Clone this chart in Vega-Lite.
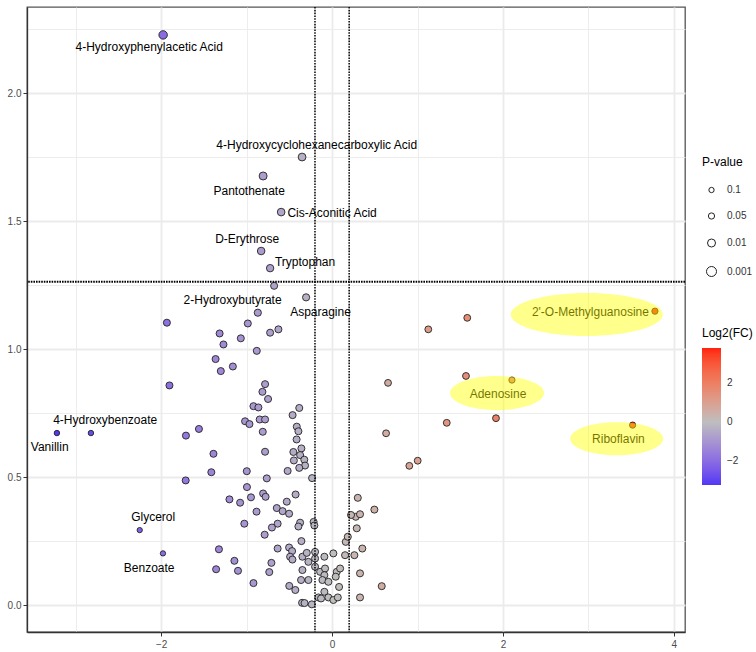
{
  "$schema": "https://vega.github.io/schema/vega-lite/v6.json",
  "width": 658,
  "height": 625,
  "autosize": {"type": "none"},
  "padding": {"left": 27, "top": 7, "right": 71, "bottom": 20},
  "config": {
    "font": "Liberation Sans",
    "view": {"stroke": "#555555", "strokeWidth": 1.3},
    "axis": {"labelFont": "Liberation Sans", "labelFontSize": 10, "labelColor": "#4d4d4d", "tickColor": "#333333", "tickSize": 4, "domainColor": "#333333", "domainWidth": 1.3, "gridColor": "#ebebeb"},
    "legend": {"titleFont": "Liberation Sans", "labelFont": "Liberation Sans", "titleFontSize": 12, "titleFontWeight": "normal", "titleColor": "#000000", "labelFontSize": 10, "labelColor": "#333333"}
  },
  "datasets": {
    "points": [
      {"name": "4-Hydroxyphenylacetic Acid", "fc": -1.977, "nlp": 2.227, "p": 0.006},
      {"name": "4-Hydroxycyclohexanecarboxylic Acid", "fc": -0.351, "nlp": 1.750, "p": 0.012},
      {"name": "Pantothenate", "fc": -0.807, "nlp": 1.676, "p": 0.01},
      {"name": "Cis-Aconitic Acid", "fc": -0.596, "nlp": 1.535, "p": 0.014},
      {"name": "D-Erythrose", "fc": -0.830, "nlp": 1.383, "p": 0.015},
      {"name": "Tryptophan", "fc": -0.725, "nlp": 1.316, "p": 0.018},
      {"name": "2-Hydroxybutyrate", "fc": -0.869, "nlp": 1.142, "p": 0.022},
      {"name": "Asparagine", "fc": -0.304, "nlp": 1.202, "p": 0.022},
      {"name": "4-Hydroxybenzoate", "fc": -2.822, "nlp": 0.672, "p": 0.09},
      {"name": "Vanillin", "fc": -3.220, "nlp": 0.672, "p": 0.09},
      {"name": "Glycerol", "fc": -2.251, "nlp": 0.293, "p": 0.1},
      {"name": "Benzoate", "fc": -1.979, "nlp": 0.202, "p": 0.1},
      {"name": "2'-O-Methylguanosine", "fc": 3.778, "nlp": 1.148, "p": 0.05},
      {"name": "Adenosine", "fc": 2.105, "nlp": 0.879, "p": 0.05},
      {"name": "Riboflavin", "fc": 3.517, "nlp": 0.703, "p": 0.05},
      {"fc": -1.933, "nlp": 1.103, "p": 0.025},
      {"fc": -1.316, "nlp": 1.061, "p": 0.025},
      {"fc": -1.271, "nlp": 1.018, "p": 0.025},
      {"fc": -1.068, "nlp": 1.042, "p": 0.025},
      {"fc": -0.986, "nlp": 1.100, "p": 0.025},
      {"fc": -0.678, "nlp": 1.247, "p": 0.025},
      {"fc": -0.881, "nlp": 0.993, "p": 0.025},
      {"fc": -1.363, "nlp": 0.961, "p": 0.025},
      {"fc": -1.302, "nlp": 0.914, "p": 0.025},
      {"fc": -1.161, "nlp": 0.932, "p": 0.025},
      {"fc": -0.725, "nlp": 1.064, "p": 0.025},
      {"fc": -0.628, "nlp": 1.077, "p": 0.025},
      {"fc": -1.903, "nlp": 0.858, "p": 0.025},
      {"fc": -0.784, "nlp": 0.863, "p": 0.025},
      {"fc": -0.815, "nlp": 0.833, "p": 0.025},
      {"fc": -0.749, "nlp": 0.805, "p": 0.025},
      {"fc": -0.920, "nlp": 0.777, "p": 0.025},
      {"fc": -0.862, "nlp": 0.772, "p": 0.025},
      {"fc": -0.462, "nlp": 0.742, "p": 0.025},
      {"fc": -0.384, "nlp": 0.770, "p": 0.025},
      {"fc": -1.018, "nlp": 0.718, "p": 0.025},
      {"fc": -0.967, "nlp": 0.707, "p": 0.025},
      {"fc": -0.847, "nlp": 0.725, "p": 0.025},
      {"fc": -0.784, "nlp": 0.725, "p": 0.025},
      {"fc": -0.811, "nlp": 0.677, "p": 0.025},
      {"fc": -0.413, "nlp": 0.697, "p": 0.025},
      {"fc": -0.394, "nlp": 0.679, "p": 0.025},
      {"fc": -0.415, "nlp": 0.647, "p": 0.025},
      {"fc": -1.558, "nlp": 0.688, "p": 0.025},
      {"fc": -1.710, "nlp": 0.662, "p": 0.025},
      {"fc": -1.388, "nlp": 0.591, "p": 0.025},
      {"fc": -0.784, "nlp": 0.599, "p": 0.025},
      {"fc": -0.453, "nlp": 0.598, "p": 0.025},
      {"fc": -0.359, "nlp": 0.612, "p": 0.025},
      {"fc": -0.374, "nlp": 0.586, "p": 0.025},
      {"fc": -0.325, "nlp": 0.568, "p": 0.025},
      {"fc": -0.316, "nlp": 0.545, "p": 0.025},
      {"fc": -0.447, "nlp": 0.565, "p": 0.025},
      {"fc": -0.384, "nlp": 0.536, "p": 0.025},
      {"fc": -1.413, "nlp": 0.519, "p": 0.025},
      {"fc": -0.998, "nlp": 0.523, "p": 0.025},
      {"fc": -0.520, "nlp": 0.524, "p": 0.025},
      {"fc": -0.234, "nlp": 0.496, "p": 0.025},
      {"fc": -0.764, "nlp": 0.495, "p": 0.025},
      {"fc": -1.713, "nlp": 0.487, "p": 0.025},
      {"fc": -0.996, "nlp": 0.461, "p": 0.025},
      {"fc": -0.807, "nlp": 0.436, "p": 0.025},
      {"fc": -0.778, "nlp": 0.423, "p": 0.025},
      {"fc": -0.949, "nlp": 0.421, "p": 0.025},
      {"fc": -1.201, "nlp": 0.413, "p": 0.025},
      {"fc": -1.076, "nlp": 0.400, "p": 0.025},
      {"fc": -0.427, "nlp": 0.432, "p": 0.025},
      {"fc": -0.530, "nlp": 0.404, "p": 0.025},
      {"fc": -0.647, "nlp": 0.379, "p": 0.025},
      {"fc": -0.579, "nlp": 0.367, "p": 0.025},
      {"fc": -0.503, "nlp": 0.357, "p": 0.025},
      {"fc": -0.884, "nlp": 0.365, "p": 0.025},
      {"fc": -1.027, "nlp": 0.318, "p": 0.025},
      {"fc": -0.789, "nlp": 0.275, "p": 0.025},
      {"fc": -0.637, "nlp": 0.318, "p": 0.025},
      {"fc": -0.704, "nlp": 0.303, "p": 0.025},
      {"fc": -0.374, "nlp": 0.322, "p": 0.025},
      {"fc": -0.394, "nlp": 0.307, "p": 0.025},
      {"fc": -0.216, "nlp": 0.325, "p": 0.025},
      {"fc": -0.207, "nlp": 0.311, "p": 0.025},
      {"fc": -0.359, "nlp": 0.250, "p": 0.025},
      {"fc": -0.637, "nlp": 0.221, "p": 0.025},
      {"fc": -0.503, "nlp": 0.225, "p": 0.025},
      {"fc": -0.468, "nlp": 0.211, "p": 0.025},
      {"fc": -0.491, "nlp": 0.189, "p": 0.025},
      {"fc": -0.464, "nlp": 0.178, "p": 0.025},
      {"fc": -1.324, "nlp": 0.218, "p": 0.025},
      {"fc": -1.143, "nlp": 0.173, "p": 0.025},
      {"fc": -1.101, "nlp": 0.134, "p": 0.025},
      {"fc": -1.357, "nlp": 0.140, "p": 0.025},
      {"fc": -0.920, "nlp": 0.086, "p": 0.025},
      {"fc": -0.710, "nlp": 0.165, "p": 0.025},
      {"fc": -0.735, "nlp": 0.129, "p": 0.025},
      {"fc": -0.501, "nlp": 0.075, "p": 0.025},
      {"fc": -0.430, "nlp": 0.059, "p": 0.025},
      {"fc": -0.351, "nlp": 0.009, "p": 0.025},
      {"fc": -0.322, "nlp": 0.008, "p": 0.025},
      {"fc": -0.237, "nlp": 0.003, "p": 0.025},
      {"fc": -0.347, "nlp": 0.189, "p": 0.025},
      {"fc": -0.296, "nlp": 0.204, "p": 0.025},
      {"fc": -0.277, "nlp": 0.169, "p": 0.025},
      {"fc": -0.347, "nlp": 0.137, "p": 0.025},
      {"fc": -0.199, "nlp": 0.208, "p": 0.025},
      {"fc": -0.199, "nlp": 0.182, "p": 0.025},
      {"fc": -0.090, "nlp": 0.189, "p": 0.025},
      {"fc": 0.015, "nlp": 0.202, "p": 0.025},
      {"fc": -0.199, "nlp": 0.150, "p": 0.025},
      {"fc": -0.140, "nlp": 0.130, "p": 0.025},
      {"fc": -0.082, "nlp": 0.143, "p": 0.025},
      {"fc": -0.090, "nlp": 0.117, "p": 0.025},
      {"fc": -0.113, "nlp": 0.098, "p": 0.025},
      {"fc": -0.043, "nlp": 0.091, "p": 0.025},
      {"fc": 0.055, "nlp": 0.130, "p": 0.025},
      {"fc": 0.094, "nlp": 0.143, "p": 0.025},
      {"fc": 0.043, "nlp": 0.111, "p": 0.025},
      {"fc": 0.082, "nlp": 0.071, "p": 0.025},
      {"fc": -0.363, "nlp": 0.098, "p": 0.025},
      {"fc": -0.277, "nlp": 0.098, "p": 0.025},
      {"fc": -0.090, "nlp": 0.052, "p": 0.025},
      {"fc": -0.043, "nlp": 0.030, "p": 0.025},
      {"fc": -0.160, "nlp": 0.030, "p": 0.025},
      {"fc": -0.129, "nlp": 0.026, "p": 0.025},
      {"fc": 0.015, "nlp": 0.020, "p": 0.025},
      {"fc": 0.067, "nlp": 0.030, "p": 0.025},
      {"fc": 0.160, "nlp": 0.247, "p": 0.025},
      {"fc": 0.184, "nlp": 0.267, "p": 0.025},
      {"fc": 0.152, "nlp": 0.195, "p": 0.025},
      {"fc": 0.261, "nlp": 0.195, "p": 0.025},
      {"fc": 0.354, "nlp": 0.221, "p": 0.025},
      {"fc": 0.289, "nlp": 0.300, "p": 0.025},
      {"fc": 0.277, "nlp": 0.345, "p": 0.025},
      {"fc": 0.222, "nlp": 0.352, "p": 0.025},
      {"fc": 0.327, "nlp": 0.355, "p": 0.025},
      {"fc": 0.495, "nlp": 0.373, "p": 0.025},
      {"fc": 0.327, "nlp": 0.124, "p": 0.025},
      {"fc": 0.327, "nlp": 0.030, "p": 0.025},
      {"fc": 0.581, "nlp": 0.074, "p": 0.025},
      {"fc": 0.301, "nlp": 0.419, "p": 0.025},
      {"fc": 1.126, "nlp": 1.077, "p": 0.03},
      {"fc": 1.582, "nlp": 1.122, "p": 0.03},
      {"fc": 0.655, "nlp": 0.868, "p": 0.03},
      {"fc": 1.567, "nlp": 0.895, "p": 0.03},
      {"fc": 1.342, "nlp": 0.712, "p": 0.03},
      {"fc": 1.918, "nlp": 0.730, "p": 0.03},
      {"fc": 0.632, "nlp": 0.671, "p": 0.03},
      {"fc": 0.904, "nlp": 0.544, "p": 0.03},
      {"fc": 1.002, "nlp": 0.564, "p": 0.03}
    ],
    "labels": [
      {"name": "4-Hydroxyphenylacetic Acid", "lx": -2.14, "ly": 2.180},
      {"name": "4-Hydroxycyclohexanecarboxylic Acid", "lx": -0.18, "ly": 1.797},
      {"name": "Pantothenate", "lx": -0.97, "ly": 1.618},
      {"name": "Cis-Aconitic Acid", "lx": 0.0, "ly": 1.532},
      {"name": "D-Erythrose", "lx": -0.994, "ly": 1.431},
      {"name": "Tryptophan", "lx": -0.316, "ly": 1.340},
      {"name": "2-Hydroxybutyrate", "lx": -1.164, "ly": 1.191},
      {"name": "Asparagine", "lx": -0.135, "ly": 1.145},
      {"name": "4-Hydroxybenzoate", "lx": -2.655, "ly": 0.723},
      {"name": "Vanillin", "lx": -3.304, "ly": 0.617},
      {"name": "Glycerol", "lx": -2.094, "ly": 0.344},
      {"name": "Benzoate", "lx": -2.140, "ly": 0.145},
      {"name": "2'-O-Methylguanosine", "lx": 3.023, "ly": 1.146},
      {"name": "Adenosine", "lx": 1.942, "ly": 0.824},
      {"name": "Riboflavin", "lx": 3.351, "ly": 0.648}
    ],
    "highlights": [
      {"name": "2'-O-Methylguanosine", "cx": 2.98, "cy": 1.135},
      {"name": "Adenosine", "cx": 1.93, "cy": 0.828},
      {"name": "Riboflavin", "cx": 3.33, "cy": 0.650}
    ],
    "vlines": [{"v": -0.2}, {"v": 0.2}],
    "hlines": [{"h": 1.263}]
  },
  "layer": [
    {
      "data": {"name": "points"},
      "mark": {"type": "point", "filled": true, "opacity": 1, "stroke": "#222222", "strokeWidth": 0.9},
      "encoding": {
        "x": {
          "field": "fc", "type": "quantitative", "title": null,
          "scale": {"domain": [-3.57, 4.13], "nice": false, "zero": false},
          "axis": {
            "values": [-3, -2, -1, 0, 1, 2, 3, 4],
            "labelExpr": "datum.value % 2 == 0 ? format(datum.value, 'd') : ''",
            "tickOpacity": {"condition": {"test": "datum.value % 2 == 0", "value": 1}, "value": 0},
            "gridWidth": {"condition": {"test": "datum.value % 2 == 0", "value": 1.8}, "value": 0.9},
            "labelPadding": 3, "domain": true
          }
        },
        "y": {
          "field": "nlp", "type": "quantitative", "title": null,
          "scale": {"domain": [-0.105, 2.336], "nice": false, "zero": false},
          "axis": {
            "values": [0, 0.25, 0.5, 0.75, 1, 1.25, 1.5, 1.75, 2, 2.25],
            "labelExpr": "abs(datum.value*2 - round(datum.value*2)) < 0.01 ? format(datum.value, '.1f') : ''",
            "tickOpacity": {"condition": {"test": "abs(datum.value*2 - round(datum.value*2)) < 0.01", "value": 1}, "value": 0},
            "gridWidth": {"condition": {"test": "abs(datum.value*2 - round(datum.value*2)) < 0.01", "value": 1.8}, "value": 0.9},
            "labelPadding": 2, "domain": true
          }
        },
        "color": {
          "field": "fc", "type": "quantitative", "title": "Log2(FC)",
          "scale": {"domain": [-3.23, 0, 3.8], "range": ["#5038f5", "#bebebe", "#ff2010"], "interpolate": "lab"},
          "legend": {
            "orient": "none", "legendX": 675, "legendY": 321, "direction": "vertical",
            "gradientLength": 137, "gradientThickness": 19, "gradientStrokeWidth": 0,
            "values": [-2, 0, 2], "labelOffset": 6, "titlePadding": 8
          }
        },
        "size": {
          "field": "p", "type": "quantitative", "title": "P-value",
          "scale": {"type": "log", "domain": [0.001, 0.1], "range": [100, 28]},
          "legend": {
            "orient": "none", "legendX": 675, "legendY": 150,
            "values": [0.1, 0.05, 0.01, 0.001],
            "labelExpr": "toString(datum.value)",
            "symbolType": "circle", "rowPadding": 15, "titlePadding": 16,
            "symbolOffset": 4, "labelOffset": 10,
            "symbolFillColor": "#ffffff", "symbolStrokeColor": "#222222", "symbolStrokeWidth": 1,
            "encode": {"symbols": {"update": {
              "fill": {"value": "#ffffff"}, "stroke": {"value": "#222222"}, "strokeWidth": {"value": 1},
              "size": {"signal": "scale('size', datum.value) * 0.45"}, "opacity": {"value": 1}
            }}}
          }
        }
      }
    },
    {
      "data": {"name": "vlines"},
      "mark": {"type": "rule", "color": "#000000", "strokeWidth": 1.5, "strokeDash": [1.6, 1.2]},
      "encoding": {"x": {"field": "v", "type": "quantitative", "title": null}}
    },
    {
      "data": {"name": "hlines"},
      "mark": {"type": "rule", "color": "#000000", "strokeWidth": 1.8, "strokeDash": [1.6, 1.0]},
      "encoding": {"y": {"field": "h", "type": "quantitative", "title": null}}
    },
    {
      "data": {"name": "labels"},
      "mark": {"type": "text", "font": "Liberation Sans", "fontSize": 12, "color": "#000000", "align": "center", "baseline": "middle"},
      "encoding": {
        "x": {"field": "lx", "type": "quantitative", "title": null},
        "y": {"field": "ly", "type": "quantitative", "title": null},
        "text": {"field": "name"}
      }
    },
    {
      "data": {"name": "highlights"},
      "transform": [{"filter": "datum.name == \"2'-O-Methylguanosine\""}],
      "mark": {"type": "point", "shape": "M -1 0 A 1 0.283 0 1 0 1 0 A 1 0.283 0 1 0 -1 0 Z", "size": 23104, "filled": true, "fill": "#ffff00", "opacity": 0.45, "strokeWidth": 0},
      "encoding": {
        "x": {"field": "cx", "type": "quantitative", "title": null},
        "y": {"field": "cy", "type": "quantitative", "title": null}
      }
    },
    {
      "data": {"name": "highlights"},
      "transform": [{"filter": "datum.name == 'Adenosine'"}],
      "mark": {"type": "point", "shape": "M -1 0 A 1 0.362 0 1 0 1 0 A 1 0.362 0 1 0 -1 0 Z", "size": 8836, "filled": true, "fill": "#ffff00", "opacity": 0.45, "strokeWidth": 0},
      "encoding": {
        "x": {"field": "cx", "type": "quantitative", "title": null},
        "y": {"field": "cy", "type": "quantitative", "title": null}
      }
    },
    {
      "data": {"name": "highlights"},
      "transform": [{"filter": "datum.name == 'Riboflavin'"}],
      "mark": {"type": "point", "shape": "M -1 0 A 1 0.355 0 1 0 1 0 A 1 0.355 0 1 0 -1 0 Z", "size": 8649, "filled": true, "fill": "#ffff00", "opacity": 0.45, "strokeWidth": 0},
      "encoding": {
        "x": {"field": "cx", "type": "quantitative", "title": null},
        "y": {"field": "cy", "type": "quantitative", "title": null}
      }
    }
  ]
}
